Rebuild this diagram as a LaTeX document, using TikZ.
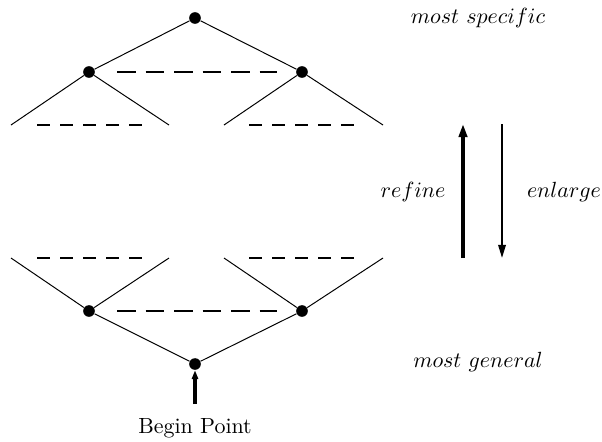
\documentclass[tikz,border=0pt]{standalone}
\usetikzlibrary{arrows.meta}

\begin{document}
\begin{tikzpicture}[
  x=0.016cm, y=-0.016cm,
  pt/.style      = {circle, fill, inner sep=0pt, minimum size=5.3pt},
  edge/.style    = {line width=0.45pt},
  tie/.style     = {line width=1pt, dash pattern=on 8.5pt off 4.5pt},
  rung/.style    = {line width=1pt, dash pattern=on 6pt off 4.5pt},
  up/.style      = {line width=1.8pt, -{Triangle[length=6pt,width=3.8pt]}},
  down/.style    = {line width=0.9pt, -{Triangle[length=6pt,width=3.4pt]}},
  start/.style   = {line width=1.4pt, -{Triangle[length=4pt,width=2.8pt]}},
  lbl/.style     = {},
]
  \useasboundingbox (0,0) rectangle (602,441);

  % upper half: most specific at the top
  \node[pt] (top) at (195,18) {};
  \node[pt] (ul)  at (89,72) {};
  \node[pt] (ur)  at (302,72) {};
  \coordinate (ul1) at (11,125);
  \coordinate (ul2) at (169,125);
  \coordinate (ur1) at (224,125);
  \coordinate (ur2) at (383,125);

  \draw[edge] (top) -- (ul);
  \draw[edge] (top) -- (ur);
  \draw[edge] (ul) -- (ul1);
  \draw[edge] (ul) -- (ul2);
  \draw[edge] (ur) -- (ur1);
  \draw[edge] (ur) -- (ur2);
  \draw[tie]  (117,72) -- (277,72);
  \draw[rung] (37,125) -- (145,125);
  \draw[rung] (249,125) -- (357,125);

  % lower half: most general at the bottom
  \node[pt] (bot) at (195,364) {};
  \node[pt] (ll)  at (89,311) {};
  \node[pt] (lr)  at (302,311) {};
  \coordinate (ll1) at (11,258);
  \coordinate (ll2) at (169,258);
  \coordinate (lr1) at (224,258);
  \coordinate (lr2) at (383,258);

  \draw[edge] (bot) -- (ll);
  \draw[edge] (bot) -- (lr);
  \draw[edge] (ll) -- (ll1);
  \draw[edge] (ll) -- (ll2);
  \draw[edge] (lr) -- (lr1);
  \draw[edge] (lr) -- (lr2);
  \draw[tie]  (117,311) -- (277,311);
  \draw[rung] (37,258) -- (145,258);
  \draw[rung] (249,258) -- (357,258);

  \node (begin) at (195,428) {Begin Point};
  \coordinate (b0) at (195,404);
  \draw[start] (b0) -- (bot);

  % labels and the two directions
  \node[lbl] (spec) at (478,18)  {$most\ specific$};
  \node[lbl] (gen)  at (478,362) {$most\ general$};

  \coordinate (r0) at (463,258);
  \coordinate (r1) at (463,124);
  \coordinate (e0) at (502,124);
  \coordinate (e1) at (502,258);
  \draw[up]   (r0) -- (r1);
  \draw[down] (e0) -- (e1);
  \node[lbl] (refine)  at (413,192) {$refine$};
  \node[lbl] (enlarge) at (564,192) {$enlarge$};
\end{tikzpicture}
\end{document}
